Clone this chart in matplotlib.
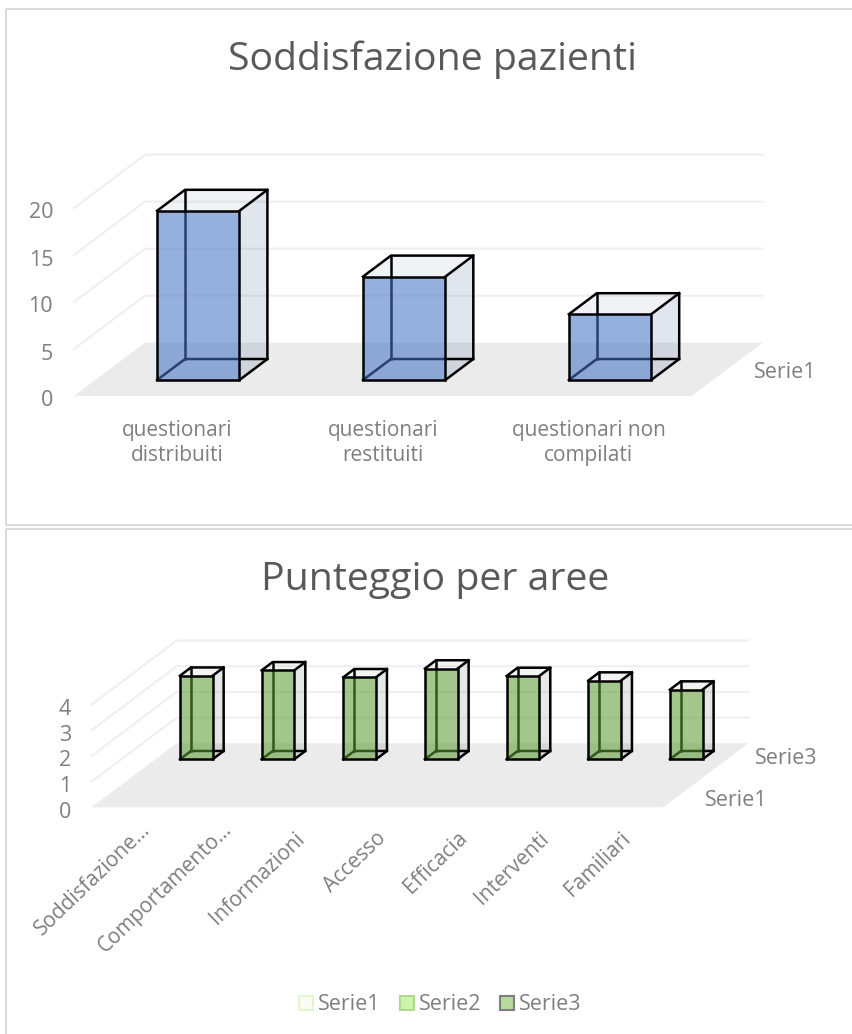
import matplotlib
matplotlib.use("Agg")
import matplotlib.pyplot as plt
from matplotlib.lines import Line2D
from matplotlib.patches import Polygon, Rectangle
from matplotlib.transforms import ScaledTranslation

plt.rcParams["font.family"] = "Open Sans"

W, H = 852, 1034

# top chart data
cat1 = ["questionari\ndistribuiti", "questionari\nrestituiti", "questionari non\ncompilati"]
val1 = [18, 11, 7]
ticks1 = [0, 5, 10, 15, 20]

# bottom chart data
cat2 = ["Soddisfazione…", "Comportamento…", "Informazioni", "Accesso", "Efficacia", "Interventi", "Familiari"]
val2 = [3.25, 3.46, 3.19, 3.53, 3.24, 3.06, 2.71]
ticks2 = [0, 1, 2, 3, 4]
legend_names = ["Serie1", "Serie2", "Serie3"]

GRAY = "#7f7f7f"
fig = plt.figure(figsize=(W / 100, H / 100), dpi=100)


def px_axes(x0, x1, ybot, ytop):
    return fig.add_axes([x0 / W, 1 - ybot / H, (x1 - x0) / W, (ybot - ytop) / H])


def nudge(label, dx_px, dy_px):
    # shift a tick label by pixels, y up
    label.set_transform(label.get_transform() + ScaledTranslation(dx_px / 100, dy_px / 100, fig.dpi_scale_trans))


def draw_chart(ax, cats, vals, ticks, dx, dy, d0, d1, col, side, top, lw=1.8):
    # dx, dy: full floor depth in data units; d0, d1: depth range of the bars
    n = len(cats)
    ax.set_xlim(0, n)
    ax.set_ylim(0, ticks[-1])
    ax.patch.set_visible(False)
    for s in ax.spines.values():
        s.set_visible(False)
    ax.add_patch(Polygon([(0, 0), (n, 0), (n + dx, dy), (dx, dy)], fc="#ebebeb", ec="none", clip_on=False, zorder=1))
    for t in ticks[1:]:
        ax.plot([0, dx, n + dx], [t, t + dy, t + dy], color="#efefef", lw=1.5, clip_on=False, zorder=1.5)
    for i, v in enumerate(vals):
        x0 = i + 0.3 + d0 * dx
        x1 = x0 + 0.4
        y0 = d0 * dy
        ox, oy = (d1 - d0) * dx, (d1 - d0) * dy
        z = 2 + i
        ax.add_patch(Polygon([(x0 + ox, y0 + oy + v), (x1 + ox, y0 + oy + v), (x1, y0 + v), (x0, y0 + v)],
                             fc=top[0], alpha=top[1], ec="none", clip_on=False, zorder=z))
        ax.add_patch(Polygon([(x1, y0), (x1 + ox, y0 + oy), (x1 + ox, y0 + oy + v), (x1, y0 + v)],
                             fc=side[0], alpha=side[1], ec="none", clip_on=False, zorder=z))
        # hidden edges show through the front face
        ax.plot([x0, x0 + ox, x1 + ox], [y0, y0 + oy, y0 + oy], color="black", lw=lw, clip_on=False, zorder=z)
        ax.plot([x0 + ox, x0 + ox], [y0 + oy, y0 + oy + v], color="black", lw=lw, clip_on=False, zorder=z)
        ax.add_patch(Rectangle((x0, y0), 0.4, v, fc=col[0], alpha=col[1], ec="none", clip_on=False, zorder=z + 0.1))
        ax.add_patch(Rectangle((x0, y0), 0.4, v, fc="none", ec="black", lw=lw, clip_on=False, zorder=z + 0.2))
        ax.plot([x0, x0 + ox, x1 + ox, x1 + ox, x1], [y0 + v, y0 + oy + v, y0 + oy + v, y0 + oy, y0],
                color="black", lw=lw, clip_on=False, zorder=z + 0.2)
        ax.plot([x1, x1 + ox], [y0 + v, y0 + oy + v], color="black", lw=lw, clip_on=False, zorder=z + 0.2)
    ax.set_yticks(ticks)
    ax.set_xticks([i + 0.5 for i in range(n)])
    ax.tick_params(length=0, labelcolor=GRAY)


# panel borders, open on the right and at the very bottom
for xs, ys in [([6, 6, W], [525, 9, 9]), ([6, W], [525, 525]), ([6, 6, W], [H, 529, 529])]:
    fig.add_artist(Line2D([x / W for x in xs], [1 - y / H for y in ys], color="#d9d9d9", lw=1.4,
                          transform=fig.transFigure))

# top chart
ax1 = px_axes(74, 691.7, 396, 208)
draw_chart(ax1, cat1, val1, ticks1, 71 / 205.9, 53.3 / 9.4, 0.3, 0.694,
           ("#4472c4", 0.56), ("#5a6f9e", 0.18), ("#5a6f9e", 0.09))
ax1.set_xticklabels(cat1, fontsize=15, linespacing=1.25)
ax1.set_yticklabels(ticks1, fontsize=15.5)
ax1.tick_params(axis="x", pad=17)
ax1.tick_params(axis="y", pad=15)
for lab in ax1.get_yticklabels():
    nudge(lab, 0, -2.5)

# bottom chart
ax2 = px_axes(91.7, 663.3, 807.3, 704.5)
draw_chart(ax2, cat2, val2, ticks2, 85 / 81.66, 64 / 25.7, 0.75, 0.88,
           ("#5b9a32", 0.56), ("#5f7a5f", 0.16), ("#5f7a5f", 0.08))
ax2.set_xticklabels(cat2, fontsize=15, rotation=44, ha="right", rotation_mode="anchor")
ax2.set_yticklabels(ticks2, fontsize=15.5)
ax2.tick_params(axis="x", pad=14)
ax2.tick_params(axis="y", pad=15)
for lab in ax2.get_yticklabels():
    nudge(lab, 0, -2.5)
for lab in ax2.get_xticklabels():
    # the truncated labels reach further along the tick in the original
    if lab.get_text().endswith("…"):
        nudge(lab, 7, 8)
    else:
        nudge(lab, -2, -1)

fig.text(433 / W, 1 - 60 / H, "Soddisfazione pazienti", fontsize=28.3, color="#595959", ha="center", va="center")
fig.text(435 / W, 1 - 580 / H, "Punteggio per aree", fontsize=28.3, color="#595959", ha="center", va="center")
fig.text(754 / W, 1 - 372.7 / H, "Serie1", fontsize=15.5, color=GRAY, va="center")
fig.text(755 / W, 1 - 758 / H, "Serie3", fontsize=15.5, color=GRAY, va="center")
fig.text(704.7 / W, 1 - 800.7 / H, "Serie1", fontsize=15.5, color=GRAY, va="center")

# legend
leg_x = [298.5, 399.5, 499.5]
leg_fc = ["#fbfbf3", "#ccf5ac", "#b7db9d"]
leg_ec = ["#e2f7d0", "#b0d890", "#7f7f7f"]
for name, x, fc, ec in zip(legend_names, leg_x, leg_fc, leg_ec):
    fig.add_artist(Rectangle((x / W, 1 - 1010 / H), 14.5 / W, 14 / H, transform=fig.transFigure, fc=fc, ec=ec, lw=1.5))
    fig.text((x + 19.5) / W, 1 - 1005 / H, name, fontsize=15.5, color=GRAY, va="center")

fig.savefig("out.png", dpi=100)
